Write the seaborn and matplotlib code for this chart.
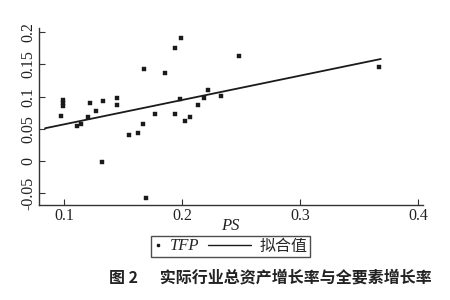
import numpy as np
import pandas as pd
import matplotlib
matplotlib.use("Agg")
import matplotlib.pyplot as plt
import seaborn as sns
from matplotlib.lines import Line2D
from matplotlib.legend_handler import HandlerBase

# ---- data ----
ps = [0.0972, 0.0994, 0.0994, 0.0994, 0.1108, 0.1144, 0.1206, 0.1220, 0.1271,
      0.1320, 0.1330, 0.1452, 0.1452, 0.1553, 0.1625, 0.1667, 0.1680, 0.1692,
      0.1771, 0.1858, 0.1941, 0.1941, 0.1992, 0.1986, 0.2025, 0.2068, 0.2138,
      0.2189, 0.2223, 0.2330, 0.2486, 0.3672]
tfp = [0.0703, 0.0940, 0.0900, 0.0860, 0.0548, 0.0579, 0.0679, 0.0896, 0.0781,
       -0.0020, 0.0936, 0.0983, 0.0874, 0.0404, 0.0430, 0.0575, 0.1429, -0.0575,
       0.0725, 0.1362, 0.1750, 0.0725, 0.1910, 0.0963, 0.0616, 0.0679, 0.0870,
       0.0974, 0.1102, 0.1009, 0.1630, 0.1464]
fit_intercept = 0.0191
fit_slope = 0.378
fit_x = [0.0839, 0.3684]
xticks = [0.1, 0.2, 0.3, 0.4]
xtick_labels = ["0.1", "0.2", "0.3", "0.4"]
yticks = [-0.05, 0, 0.05, 0.1, 0.15, 0.2]
ytick_labels = ["-0.05", "0", "0.05", "0.1", "0.15", "0.2"]
x_label = "PS"
legend_labels = ["TFP", "拟合值"]
caption = "图 2      实际行业总资产增长率与全要素增长率"

df = pd.DataFrame({"PS": ps, "TFP": tfp})
fit_df = pd.DataFrame({"x": fit_x,
                       "y": [fit_intercept + fit_slope * v for v in fit_x]})

sns.set_style("ticks")
plt.rcParams["font.family"] = ["Liberation Serif", "Noto Sans CJK SC"]

fig = plt.figure(figsize=(4.5, 3.0), dpi=100)
ax = fig.add_axes([0.0867, 0.3167, 0.8533, 0.59])

ink = "#1a1a1a"
sns.scatterplot(data=df, x="PS", y="TFP", ax=ax, marker="s", s=5.5,
                color=ink, edgecolor=ink, linewidth=0.3, legend=False)
sns.lineplot(data=fit_df, x="x", y="y", ax=ax, color=ink, linewidth=1.3,
             legend=False)

ax.set_xlim(0.0788, 0.4042)
ax.set_ylim(-0.0683, 0.2065)
ax.set_xticks(xticks)
ax.set_xticklabels(xtick_labels)
ax.set_yticks(yticks)
ax.set_yticklabels(ytick_labels, rotation=90, va="center")
for s in ["top", "right"]:
    ax.spines[s].set_visible(False)
for s in ["left", "bottom"]:
    ax.spines[s].set_color("#333333")
    ax.spines[s].set_linewidth(1.0)
ax.tick_params(direction="in", length=4, width=0.8, color="#333333",
               labelsize=11.5, labelcolor="#222222")
ax.tick_params(axis="x", pad=2)
ax.tick_params(axis="y", pad=2)
ax.set_xlabel(x_label, fontsize=12, style="italic", color="#222222")
ax.xaxis.set_label_coords(0.497, -0.119)
ax.xaxis.label.set_va("center")
ax.set_ylabel("")


class LongLineHandler(HandlerBase):
    """Line legend handle that extends to the left into the column gap."""
    def __init__(self, extend, **kw):
        super().__init__(**kw)
        self.extend = extend

    def create_artists(self, legend, orig_handle, xdescent, ydescent,
                       width, height, fontsize, trans):
        y = height / 2 - ydescent
        ln = Line2D([-xdescent - self.extend * fontsize, -xdescent + width],
                    [y, y])
        self.update_prop(ln, orig_handle, legend)
        ln.set_transform(trans)
        return [ln]


dot_handle = Line2D([], [], marker="s", markersize=2.0, linestyle="none",
                    color=ink)
line_handle = Line2D([], [], color=ink, linewidth=1.0)
leg = fig.legend([dot_handle, line_handle], legend_labels, loc="center",
                 bbox_to_anchor=(230.5 / 450, 1 - 246 / 300), ncol=2,
                 frameon=True, fancybox=False, fontsize=12,
                 handlelength=0.5, handletextpad=0.5, columnspacing=2.6,
                 borderpad=0.12, borderaxespad=0,
                 handler_map={line_handle: LongLineHandler(extend=2.1)})
leg.get_frame().set_edgecolor("#222222")
leg.get_frame().set_linewidth(1.0)
leg.get_texts()[0].set_style("italic")
leg.get_texts()[1].set_family(["Noto Sans CJK SC"])
leg.get_texts()[1].set_fontsize(11.5)

fig.text(270 / 450, 1 - 277 / 300, caption, ha="center", va="center",
         fontsize=11.5, fontweight="bold", family=["Noto Sans CJK SC"],
         color="#222222")

fig.savefig("out.png", dpi=100, facecolor="white")
